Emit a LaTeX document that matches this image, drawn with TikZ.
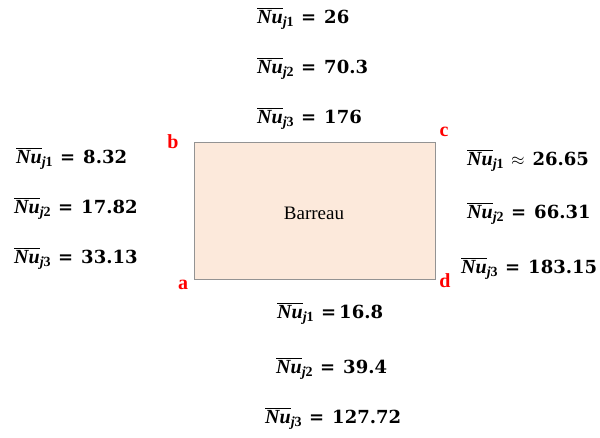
\documentclass[tikz,border=0pt]{standalone}
\usepackage{fontspec}
\setmainfont{DejaVu Serif}
\newfontfamily\lserif{Liberation Serif}
\newcommand{\nub}[1]{$\overline{\mbox{\lserif\fontsize{20}{22}\selectfont\bfseries\itshape Nu}}_{\mbox{\lserif\fontsize{14}{16}\selectfont\bfseries\itshape j\upshape #1}}$}
\newcommand{\nv}[3]{\nub{#1}\hspace{7pt}#2\hspace{#3}}
\begin{document}
\begin{tikzpicture}[x=1pt,y=-1pt,
  val/.style={anchor=west,inner sep=0pt,font=\fontsize{18}{20}\selectfont\bfseries},
  corner/.style={inner sep=0pt,text=red,font=\lserif\fontsize{20}{22}\selectfont\bfseries},
  bar/.style={draw=gray!85,line width=0.9pt,fill={rgb,255:red,252;green,233;blue,219}}]
\useasboundingbox (0,0) rectangle (600,438);
\node[bar,minimum width=241pt,minimum height=137pt,inner sep=0pt] (box) at (314.5,210.5) {};
\node[inner sep=0pt,font=\lserif\fontsize{19}{21}\selectfont] (lab) at (314,213) {Barreau};
\node[corner] (b) at (173,142) {b};
\node[corner] (c) at (444,132) {c};
\node[corner] (a) at (183,285) {a};
\node[corner] (d) at (445,281) {d};
% top
\node[val] (t1) at (257,19) {\nv{1}{=}{8pt}26};
\node[val] (t2) at (257,69) {\nv{2}{=}{8pt}70.3};
\node[val] (t3) at (257,119) {\nv{3}{=}{8pt}176};
% left
\node[val] (l1) at (16,159) {\nv{1}{=}{8pt}8.32};
\node[val] (l2) at (14,209) {\nv{2}{=}{8pt}17.82};
\node[val] (l3) at (14,259) {\nv{3}{=}{8pt}33.13};
% right
\node[val] (r1) at (467,161) {\nv{1}{$\approx$}{8pt}26.65};
\node[val] (r2) at (467,214) {\nv{2}{=}{8pt}66.31};
\node[val] (r3) at (461,269) {\nv{3}{=}{8pt}183.15};
% bottom
\node[val] (b1) at (277,314) {\nv{1}{=}{3pt}16.8};
\node[val] (b2) at (276,369) {\nv{2}{=}{8pt}39.4};
\node[val] (b3) at (265,419) {\nv{3}{=}{8pt}127.72};
\end{tikzpicture}
\end{document}
